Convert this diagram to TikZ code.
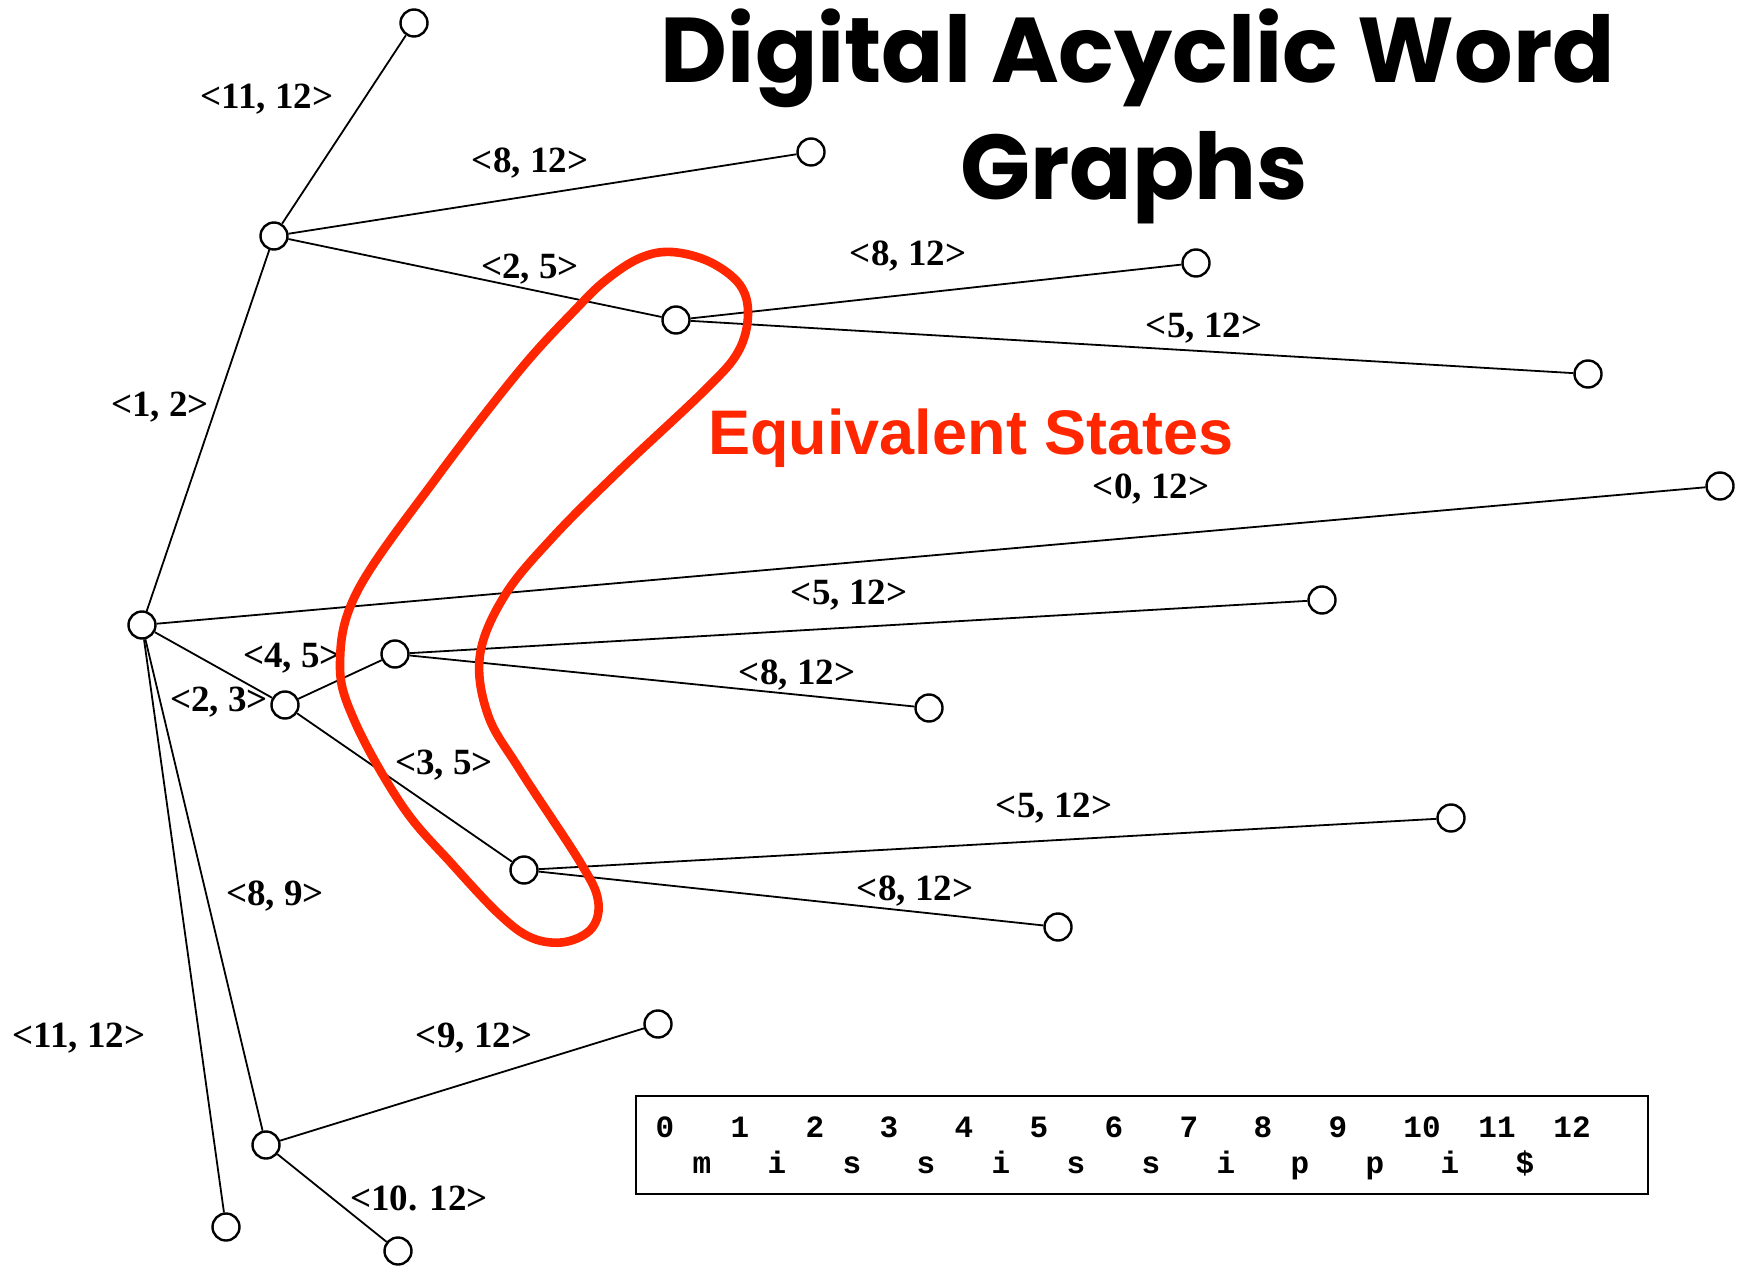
\documentclass[tikz,border=0pt]{standalone}
\usepackage{fontspec}
\setmainfont{Liberation Serif}
\newfontfamily\titlefont{Poppins}
\newfontfamily\helvfont{Liberation Sans}
\newfontfamily\courfont{Liberation Mono}
\definecolor{eqred}{RGB}{255,38,0}

\begin{document}
\begin{tikzpicture}[x=0.5pt,y=-0.5pt,
    state/.style={circle,draw,fill=white,line width=1.2pt,minimum size=13.5pt,inner sep=0pt},
    edge/.style={line width=0.9pt},
    lab/.style={font=\fontsize{18.5}{22}\selectfont\bfseries,inner sep=0pt},
    strchar/.style={font=\courfont\fontsize{15.5}{18}\selectfont\bfseries,anchor=base,inner sep=0pt}]
  \useasboundingbox (0,0) rectangle (1740,1267);

  % title
  \node[font=\titlefont\fontsize{46}{56}\selectfont\bfseries,anchor=base] (title1) at (1138,83) {Digital Acyclic Word};
  \node[font=\titlefont\fontsize{46}{56}\selectfont\bfseries,anchor=base] (title2) at (1134,200) {Graphs};

  % states
  \node[state] (R) at (142,625) {};
  \node[state] (A) at (274,236) {};
  \node[state] (A1) at (414,23) {};
  \node[state] (A2) at (811,152) {};
  \node[state] (B) at (676,320) {};
  \node[state] (B1) at (1196,263) {};
  \node[state] (B2) at (1588,374) {};
  \node[state] (L0) at (1720,486) {};
  \node[state] (C) at (285,705) {};
  \node[state] (D) at (395,654) {};
  \node[state] (D1) at (1322,600) {};
  \node[state] (D2) at (929,708) {};
  \node[state] (E) at (524,870) {};
  \node[state] (E1) at (1451,818) {};
  \node[state] (E2) at (1058,927) {};
  \node[state] (F) at (266,1145) {};
  \node[state] (F1) at (658,1024) {};
  \node[state] (F2) at (398,1251) {};
  \node[state] (G) at (226,1227) {};

  % edges
  \draw[edge] (R) -- (A);
  \draw[edge] (A) -- (A1);
  \draw[edge] (A) -- (A2);
  \draw[edge] (A) -- (B);
  \draw[edge] (B) -- (B1);
  \draw[edge] (B) -- (B2);
  \draw[edge] (R) -- (L0);
  \draw[edge] (R) -- (C);
  \draw[edge] (C) -- (D);
  \draw[edge] (D) -- (D1);
  \draw[edge] (D) -- (D2);
  \draw[edge] (C) -- (E);
  \draw[edge] (E) -- (E1);
  \draw[edge] (E) -- (E2);
  \draw[edge] (R) -- (F);
  \draw[edge] (F) -- (F1);
  \draw[edge] (F) -- (F2);
  \draw[edge] (R) -- (G);

  % edge labels
  \node[lab] (lAA1) at (267,99) {<11, 12>};
  \node[lab] (lAA2) at (530,163) {<8, 12>};
  \node[lab] (lAB) at (530,269) {<2, 5>};
  \node[lab] (lBB1) at (908,256) {<8, 12>};
  \node[lab] (lBB2) at (1204,328) {<5, 12>};
  \node[lab] (lRA) at (160,407) {<1, 2>};
  \node[lab] (lRL0) at (1151,489) {<0, 12>};
  \node[lab] (lDD1) at (849,595) {<5, 12>};
  \node[lab] (lCD) at (292,658) {<4, 5>};
  \node[lab] (lRC) at (219,702) {<2, 3>};
  \node[lab] (lDD2) at (797,675) {<8, 12>};
  \node[lab] (lCE) at (444,765) {<3, 5>};
  \node[lab] (lEE1) at (1054,808) {<5, 12>};
  \node[lab] (lEE2) at (915,891) {<8, 12>};
  \node[lab] (lRF) at (275,896) {<8, 9>};
  \node[lab] (lRG) at (79,1038) {<11, 12>};
  \node[lab] (lFF1) at (474,1038) {<9, 12>};
  \node[lab] (lFF2) at (419,1198) {<10. 12>};

  % equivalent states
  \draw[eqred,line width=4.3pt] plot[smooth cycle,tension=0.6] coordinates {
    (606,280) (640,258) (672,252) (710,262) (740,285) (748,315) (738,352)
    (705,390) (620,470) (553,537) (505,595) (480,655) (488,715) (520,770)
    (580,862) (598,900) (592,928) (565,942) (532,938) (500,915) (452,864)
    (403,807) (355,722) (340,663) (358,590) (437,477) (520,370) (575,310)};
  \node[font=\helvfont\fontsize{31.5}{36}\selectfont\bfseries,text=eqred,anchor=base west,inner sep=0pt] (eqlab) at (708,455) {Equivalent States};

  % string box
  \draw[line width=1.2pt] (636,1096) rectangle (1648,1194);
  \foreach \d/\xx in {0/665,1/740,2/815,3/889,4/964,5/1039,6/1114,7/1189,8/1263,9/1338,10/1422,11/1497,12/1572}
    \node[strchar] (d\d) at (\xx,1137) {\d};
  \foreach \c/\xx [count=\i from 0] in {m/702,i/777,s/852,s/926,i/1001,s/1076,s/1151,i/1226,p/1300,p/1375,i/1450,\$/1525}
    \node[strchar] (c\i) at (\xx,1173) {\c};
\end{tikzpicture}
\end{document}
